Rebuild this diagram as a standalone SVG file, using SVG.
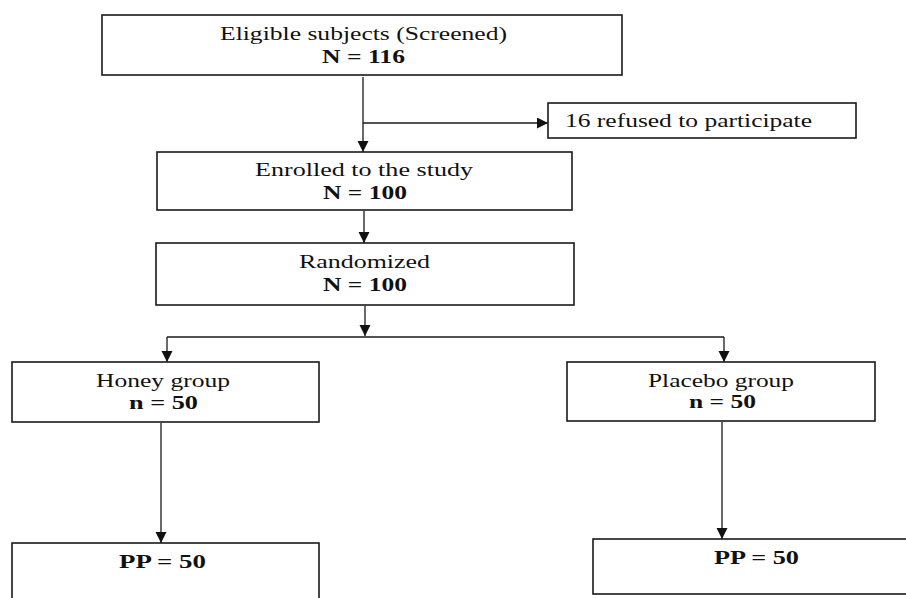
<svg xmlns="http://www.w3.org/2000/svg" width="906" height="598" viewBox="0 0 906 598">
<style>
.box{fill:#fff;stroke:#1a1a1a;stroke-width:1.6}
.ln{fill:none;stroke:#1a1a1a;stroke-width:1.3}
.t{font-family:"Liberation Serif","Times New Roman",serif;font-size:19px;fill:#111}
.b{font-weight:bold}
</style>
<defs>
<marker id="ah" markerUnits="userSpaceOnUse" markerWidth="14" markerHeight="14" refX="11" refY="5.5" orient="auto">
<path d="M0,0 L11,5.5 L0,11 Z" fill="#111"/>
</marker>
</defs>
<rect width="906" height="598" fill="#fff"/>
<g id="connectors">
<line class="ln" x1="363" y1="77" x2="363" y2="152" marker-end="url(#ah)"/>
<line class="ln" x1="363" y1="123" x2="548" y2="123" marker-end="url(#ah)"/>
<line class="ln" x1="364" y1="211" x2="364" y2="243" marker-end="url(#ah)"/>
<line class="ln" x1="365" y1="306" x2="365" y2="336" marker-end="url(#ah)"/>
<polyline class="ln" points="167,337 724,337"/>
<line class="ln" x1="167" y1="337" x2="167" y2="362" marker-end="url(#ah)"/>
<line class="ln" x1="724" y1="337" x2="724" y2="362" marker-end="url(#ah)"/>
<line class="ln" x1="161" y1="423" x2="161" y2="543" marker-end="url(#ah)"/>
<line class="ln" x1="722" y1="422" x2="722" y2="539" marker-end="url(#ah)"/>
</g>
<g id="screened">
<rect class="box" x="102" y="15" width="520" height="60"/>
<text class="t" x="220" y="40" textLength="287" lengthAdjust="spacingAndGlyphs">Eligible subjects (Screened)</text>
<text class="t b" x="322" y="63" textLength="83" lengthAdjust="spacingAndGlyphs">N = 116</text>
</g>
<g id="refused">
<rect class="box" x="548" y="103" width="308" height="35"/>
<text class="t" x="565" y="127" textLength="247" lengthAdjust="spacingAndGlyphs">16 refused to participate</text>
</g>
<g id="enrolled">
<rect class="box" x="157" y="152" width="415" height="58"/>
<text class="t" x="255" y="176" textLength="218" lengthAdjust="spacingAndGlyphs">Enrolled to the study</text>
<text class="t b" x="323" y="199" textLength="84" lengthAdjust="spacingAndGlyphs">N = 100</text>
</g>
<g id="randomized">
<rect class="box" x="156" y="243" width="418" height="62"/>
<text class="t" x="299" y="268" textLength="131" lengthAdjust="spacingAndGlyphs">Randomized</text>
<text class="t b" x="323" y="291" textLength="84" lengthAdjust="spacingAndGlyphs">N = 100</text>
</g>
<g id="honey">
<rect class="box" x="12" y="362" width="307" height="60"/>
<text class="t" x="96" y="387" textLength="134" lengthAdjust="spacingAndGlyphs">Honey group</text>
<text class="t b" x="129" y="409" textLength="69" lengthAdjust="spacingAndGlyphs">n = 50</text>
</g>
<g id="placebo">
<rect class="box" x="567" y="362" width="308" height="59"/>
<text class="t" x="648" y="387" textLength="146" lengthAdjust="spacingAndGlyphs">Placebo group</text>
<text class="t b" x="689" y="408" textLength="67" lengthAdjust="spacingAndGlyphs">n = 50</text>
</g>
<g id="pp-honey">
<rect class="box" x="12" y="543" width="307" height="70"/>
<text class="t b" x="119" y="568" textLength="87" lengthAdjust="spacingAndGlyphs">PP = 50</text>
</g>
<g id="pp-placebo">
<rect class="box" x="593" y="539" width="320" height="55"/>
<text class="t b" x="714" y="564" textLength="85" lengthAdjust="spacingAndGlyphs">PP = 50</text>
</g>
</svg>
